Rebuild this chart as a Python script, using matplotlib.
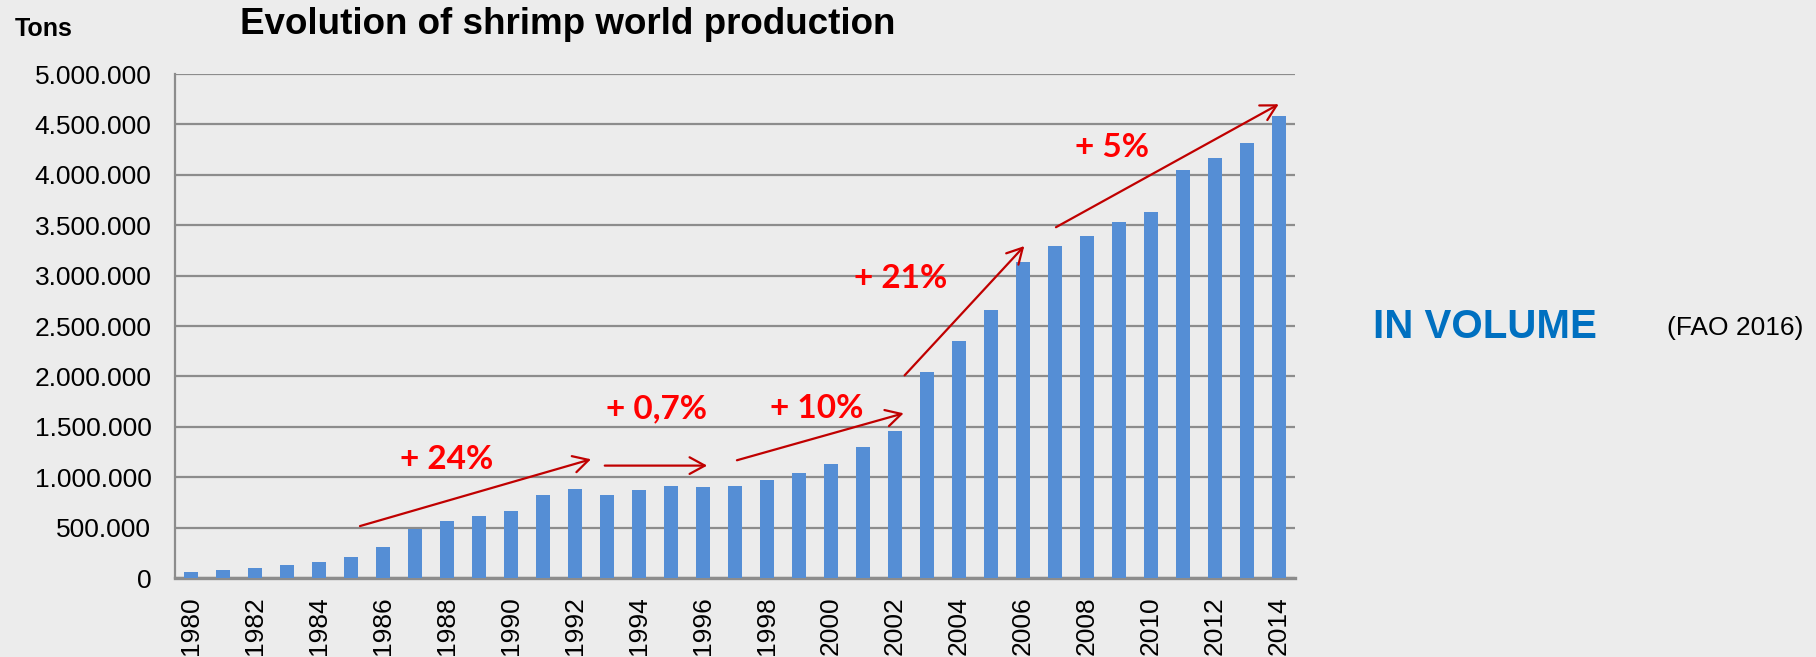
import matplotlib
matplotlib.use("Agg")
import matplotlib.pyplot as plt
from matplotlib.ticker import FuncFormatter

# ---- data ----
years = list(range(1980, 2015))
production = [60000, 75000, 99000, 132000, 161000, 204000, 307000, 485000,
              568000, 611000, 667000, 825000, 884000, 825000, 871000, 917000,
              904000, 914000, 974000, 1040000, 1129000, 1300000, 1459000,
              2043000, 2356000, 2663000, 3139000, 3290000, 3396000, 3528000,
              3627000, 4043000, 4165000, 4317000, 4581000]
y_ticks = [0, 500000, 1000000, 1500000, 2000000, 2500000, 3000000,
           3500000, 4000000, 4500000, 5000000]

# growth annotations: (label, label_x, label_y, arrow_start, arrow_end)
growth_labels = ["+ 24%", "+ 0,7%", "+ 10%", "+ 21%", "+ 5%"]
label_pos = [(8.0, 1180000), (14.55, 1678000), (19.54, 1678000),
             (22.19, 2975000), (28.77, 4270000)]
arrow_start = [(5.28, 515000), (12.93, 1115000), (17.06, 1168000),
               (22.3, 2010000), (27.03, 3480000)]
arrow_end = [(12.5, 1178000), (16.13, 1115000), (22.27, 1634000),
             (26.04, 3293000), (33.99, 4700000)]

plt.rcParams['font.family'] = ['Liberation Sans', 'DejaVu Sans']

fig = plt.figure(figsize=(18.16, 6.57), dpi=100)
fig.patch.set_facecolor('#ececec')
ax = fig.add_axes([175/1816, 1-578/657, (1295-175)/1816, (578-74)/657])
ax.set_facecolor('none')

x = list(range(len(years)))
ax.bar(x, production, width=0.42, color='#558ED5', zorder=3)

ax.set_xlim(-0.5, len(years) - 0.5)
ax.set_ylim(0, 5000000)
ax.set_yticks(y_ticks)
ax.yaxis.set_major_formatter(FuncFormatter(lambda v, p: f"{v:,.0f}".replace(',', '.')))
ax.set_xticks(x[::2])
ax.set_xticklabels([str(y) for y in years[::2]], rotation=90)
ax.tick_params(axis='y', length=0, pad=17, labelsize=19, colors='black')
ax.tick_params(axis='x', length=0, pad=13, labelsize=19, colors='black')

ax.grid(axis='y', color='#8c8c8c', linewidth=1.6, zorder=1)
ax.set_axisbelow(True)
for s in ['top', 'right']:
    ax.spines[s].set_visible(False)
ax.spines['left'].set_color('#8c8c8c')
ax.spines['left'].set_linewidth(1.6)
ax.spines['bottom'].set_color('#8c8c8c')
ax.spines['bottom'].set_linewidth(2.4)

for lab, lp, a0, a1 in zip(growth_labels, label_pos, arrow_start, arrow_end):
    ax.annotate('', xy=a1, xytext=a0,
                arrowprops=dict(arrowstyle='->,head_length=0.55,head_width=0.3',
                                mutation_scale=20, color='#C00000', lw=1.6,
                                shrinkA=0, shrinkB=0), zorder=5)
    ax.text(lp[0], lp[1], lab, color='#FF0000', fontsize=24, fontweight='bold',
            family=['Lato', 'DejaVu Sans'], ha='center', va='center', zorder=6)

fig.text(568/1816, 1-24/657, 'Evolution of shrimp world production', fontsize=26.5,
         fontweight='bold', ha='center', va='center', color='black')
fig.text(44/1816, 1-29/657, 'Tons', fontsize=18, fontweight='bold',
         ha='center', va='center', color='black')
fig.text(1485/1816, 1-327/657, 'IN VOLUME', fontsize=29, fontweight='bold',
         ha='center', va='center', color='#0070C0')
fig.text(1735/1816, 1-328/657, '(FAO 2016)', fontsize=19,
         ha='center', va='center', color='black')

fig.savefig('out.png', dpi=100, facecolor=fig.get_facecolor())
